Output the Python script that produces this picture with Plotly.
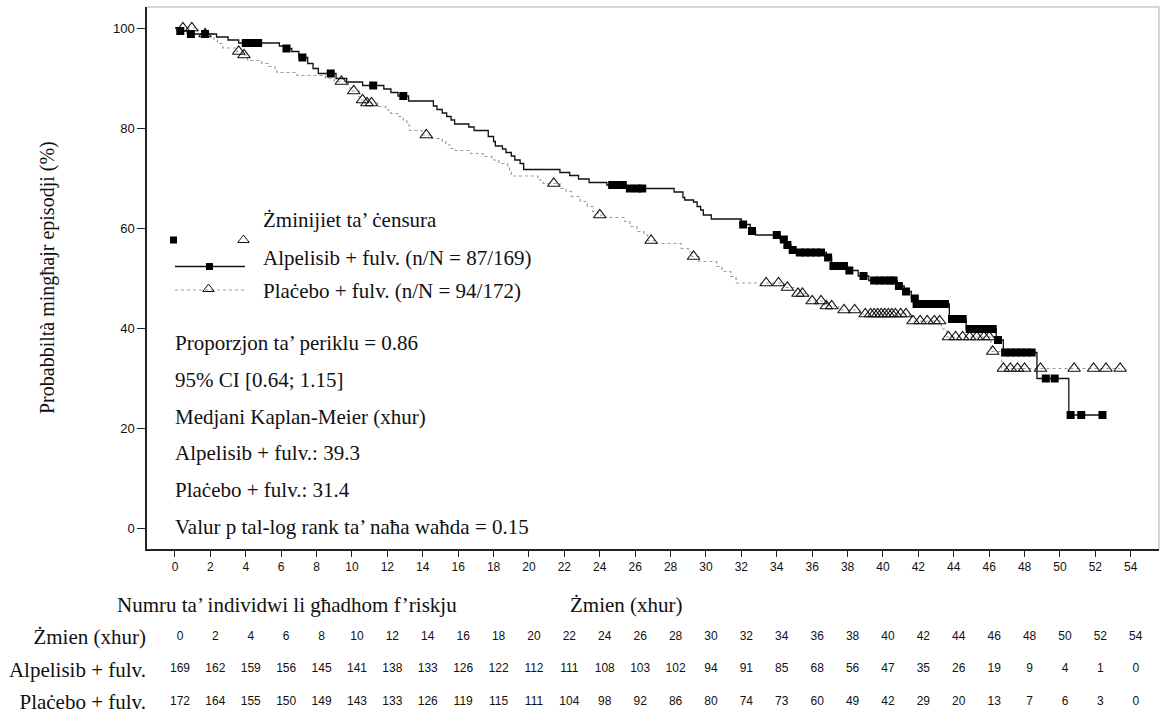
import numpy as np
import plotly.graph_objects as go

# ---------------- data ----------------
risk_months = list(range(0, 55, 2))
alp_risk = [169, 162, 159, 156, 145, 141, 138, 133, 126, 122, 112, 111, 108, 103,
            102, 94, 91, 85, 68, 56, 47, 35, 26, 19, 9, 4, 1, 0]
pla_risk = [172, 164, 155, 150, 149, 143, 133, 126, 119, 115, 111, 104, 98, 92,
            86, 80, 74, 73, 60, 49, 42, 29, 20, 13, 7, 6, 3, 0]

# Kaplan-Meier step curve, Alpelisib + fulv. (time in months, survival %)
alp_t = [0, 0.2, 0.7, 2.35, 3.0, 3.6, 5.9, 6.2, 6.6, 7.0,
         7.5, 7.8, 8.1, 9.1, 9.7, 10.6, 11.8, 12.2, 12.6, 13.2,
         14.6, 14.8, 15.1, 15.35, 15.6, 15.8, 16.6, 16.9, 17.7, 18.0,
         18.1, 18.5, 18.7, 19.0, 19.2, 19.5, 19.7, 21.75, 22.3, 22.8,
         23.4, 24.4, 25.5, 28.2, 28.7, 28.8, 29.3, 29.5, 29.7, 29.85,
         30.3, 32.0, 32.5, 32.8, 34.2, 34.5, 34.8, 35.1, 36.8, 37.1,
         38.0, 38.6, 39.2, 40.8, 41.2, 41.6, 41.85, 43.75, 44.7, 46.4,
         46.8, 48.7, 50.5, 52.4]
alp_s = [100, 99.4, 98.8, 98.2, 97.6, 97.0, 96.4, 95.9, 95.3, 94.1,
         92.9, 91.9, 90.9, 89.9, 89.2, 88.5, 87.8, 87.1, 86.4, 85.4,
         84.4, 83.7, 83.0, 82.3, 81.6, 80.8, 80.2, 79.5, 78.3, 77.3,
         76.4, 75.8, 75.1, 74.4, 73.6, 72.9, 71.7, 71.1, 70.5, 69.8,
         69.1, 68.6, 67.9, 67.2, 66.1, 65.6, 65.2, 64.3, 63.6, 62.6,
         61.8, 60.7, 59.4, 58.6, 57.7, 56.6, 55.6, 55.1, 54.1, 52.4,
         51.5, 50.4, 49.5, 48.4, 47.3, 45.9, 44.8, 41.8, 39.8, 37.6,
         35.1, 29.9, 22.6, 22.6]
alp_cens = [0.3, 0.9, 1.7, 4.0, 4.35, 4.7, 6.3, 7.2, 8.8, 11.2, 12.9,
            24.7, 25.0, 25.3, 25.7, 26.1, 26.4,
            32.1, 32.6, 34.0, 34.4, 34.6, 34.9, 35.3, 35.6, 35.9, 36.2, 36.5,
            36.9, 37.2, 37.5, 37.8, 38.1, 38.9, 39.5, 39.8, 40.1, 40.4, 40.6,
            40.9, 41.3, 41.8, 41.9, 42.3, 42.6, 42.9, 43.2, 43.5, 43.9, 44.2,
            44.5, 44.9, 45.2, 45.6, 45.9, 46.2, 46.5, 46.9, 47.2, 47.5, 47.8,
            48.1, 48.4, 49.2, 49.7, 50.6, 51.2, 52.4]

# Kaplan-Meier step curve, Plaċebo + fulv.
pla_t = [0, 1.3, 1.6, 2.2, 2.4, 2.7, 3.5, 3.8, 4.1, 4.9,
         5.3, 5.65, 5.75, 6.9, 8.5, 9.0, 9.8, 10.0, 10.4, 10.5,
         10.75, 11.5, 11.9, 12.2, 12.6, 12.9, 13.1, 13.25, 13.95, 14.5,
         15.1, 15.3, 15.6, 15.85, 16.7, 17.4, 17.9, 18.3, 18.8, 18.9,
         19.0, 20.5, 20.8, 21.75, 22.1, 22.4, 22.9, 23.3, 23.6, 23.9,
         24.2, 25.4, 25.7, 26.1, 26.5, 26.7, 27.1, 28.6, 29.0, 29.2,
         29.6, 30.6, 30.9, 31.4, 31.7, 34.4, 35.0, 35.8, 36.7, 37.5,
         38.7, 41.5, 43.3, 43.6, 46.1, 46.7, 53.4]
pla_s = [100, 99.4, 98.8, 97.6, 96.9, 96.0, 95.3, 94.6, 93.5, 92.9,
         92.3, 91.5, 91.1, 90.5, 89.9, 89.3, 88.0, 87.4, 86.2, 85.6,
         85.0, 84.3, 83.6, 82.9, 82.3, 81.6, 80.6, 79.5, 78.6, 77.9,
         77.3, 76.6, 75.9, 75.5, 74.9, 74.3, 73.6, 72.9, 72.3, 71.4,
         70.4, 69.6, 68.9, 67.9, 67.3, 66.3, 65.3, 64.3, 63.3, 62.6,
         62.1, 61.3, 60.3, 59.3, 58.6, 57.5, 56.9, 55.9, 55.2, 54.3,
         53.3, 52.3, 51.3, 50.3, 49.0, 48.1, 46.9, 45.4, 44.4, 43.6,
         42.8, 41.4, 39.8, 38.2, 35.3, 31.9, 31.9]
pla_cens = [0.45, 0.95, 1.7, 3.6, 3.9, 9.4, 10.1, 10.6, 10.85, 11.1, 14.2,
            21.4, 24.0, 26.9, 29.3,
            33.4, 34.1, 34.6, 35.2, 35.45, 36.0, 36.5, 36.8, 37.1, 37.8, 38.4,
            39.0, 39.3, 39.5, 39.7, 39.9, 40.1, 40.3, 40.5, 40.7, 41.0, 41.3,
            41.7, 42.1, 42.5, 42.9, 43.2,
            43.7, 44.1, 44.5, 44.9, 45.3, 45.7, 46.0, 46.2,
            46.8, 47.2, 47.6, 48.0, 48.9, 50.8, 51.9, 52.6, 53.4]

row_labels = ["Żmien (xhur)", "Alpelisib + fulv.", "Plaċebo + fulv."]
legend_alp = "Alpelisib + fulv. (n/N = 87/169)"
legend_pla = "Plaċebo + fulv. (n/N = 94/172)"
legend_head = "Żminijiet ta’ ċensura"
stats_lines = ["Proporzjon ta’ periklu = 0.86",
               "95% CI [0.64; 1.15]",
               "Medjani Kaplan-Meier (xhur)",
               "Alpelisib + fulv.: 39.3",
               "Plaċebo + fulv.: 31.4",
               "Valur p tal-log rank ta’ naħa waħda = 0.15"]


def at_time(ts, ss, t):
    i = int(np.searchsorted(ts, t, side="right")) - 1
    return ss[i]


alp_cy = [at_time(alp_t, alp_s, t) for t in alp_cens]
pla_cy = [at_time(pla_t, pla_s, t) for t in pla_cens]

# ---------------- geometry ----------------
W, H = 1160, 715
ML, MR, MT, MB = 147, 1, 7, 0
PW, PH = W - ML - MR, H - MT - MB
Y_BOTTOM = 549
PX_PER_MONTH = 17.7


def px(xp):
    return (xp - ML) / PW


def py(yp):
    return (H - MB - yp) / PH


SERIF = "Liberation Serif, Times New Roman, serif"
SANS = "Liberation Sans, Arial, sans-serif"
TXT = 21

fig = go.Figure()

# curves
fig.add_trace(go.Scatter(x=pla_t, y=pla_s, mode="lines", showlegend=False,
                         line=dict(shape="hv", color="#9a9a9a", width=1.2, dash="dot"),
                         hoverinfo="skip"))
fig.add_trace(go.Scatter(x=alp_t, y=alp_s, mode="lines", showlegend=False,
                         line=dict(shape="hv", color="#111111", width=1.3),
                         hoverinfo="skip"))
fig.add_trace(go.Scatter(x=pla_cens, y=pla_cy, mode="markers", showlegend=False,
                         marker=dict(symbol="triangle-up-open", size=11, color="#111111",
                                     line=dict(width=1.1, color="#111111"))))
fig.add_trace(go.Scatter(x=alp_cens, y=alp_cy, mode="markers", showlegend=False,
                         marker=dict(symbol="square", size=8, color="#000000",
                                     line=dict(width=0))))

# at-risk table (own x axis, shifted a few pixels right like the reference)
for lab, vals in zip(row_labels, [risk_months, alp_risk, pla_risk]):
    fig.add_trace(go.Scatter(x=risk_months, y=[lab] * len(risk_months),
                             text=[str(v) for v in vals], mode="text",
                             textfont=dict(family=SANS, size=12, color="#111"),
                             xaxis="x4", yaxis="y2", showlegend=False, cliponaxis=False))

# legend glyphs (overlay axes in pixel units)
fig.add_trace(go.Scatter(x=[175, 245], y=[266.5, 266.5], mode="lines",
                         line=dict(color="#111111", width=1.3), xaxis="x3", yaxis="y3",
                         showlegend=False, hoverinfo="skip"))
fig.add_trace(go.Scatter(x=[175, 245], y=[290, 290], mode="lines",
                         line=dict(color="#9a9a9a", width=1.2, dash="dot"), xaxis="x3",
                         yaxis="y3", showlegend=False, hoverinfo="skip"))
fig.add_trace(go.Scatter(x=[173.5, 209.5], y=[240, 266.5], mode="markers",
                         marker=dict(symbol="square", size=7, color="#000"),
                         xaxis="x3", yaxis="y3", showlegend=False, hoverinfo="skip"))
fig.add_trace(go.Scatter(x=[243.5, 208.5], y=[240, 289], mode="markers",
                         marker=dict(symbol="triangle-up-open", size=10, color="#111",
                                     line=dict(width=1, color="#111")),
                         xaxis="x3", yaxis="y3", showlegend=False, hoverinfo="skip"))

annotations = []


def txt(s, x, y, anchor="left", size=TXT, angle=0):
    annotations.append(dict(text=s, x=px(x), y=py(y), xref="paper", yref="paper",
                            xanchor=anchor, yanchor="middle", showarrow=False,
                            textangle=angle,
                            font=dict(family=SERIF, size=size, color="#111")))


txt(legend_head, 261, 220)
txt(legend_alp, 261, 258)
txt(legend_pla, 261, 291)
for i, s in enumerate(stats_lines):
    txt(s, 173, 343 + i * 36.8)
txt("Probabbiltà mingħajr episodji (%)", 47, 278, anchor="center", size=20, angle=-90)
txt("Numru ta’ individwi li għadhom f’riskju", 287, 605, anchor="center")
txt("Żmien (xhur)", 626, 605, anchor="center")

# light grey top/right frame
shapes = [
    dict(type="line", xref="paper", yref="paper", x0=0, x1=1, y0=1, y1=1,
         line=dict(color="#c8c8c8", width=1.5)),
    dict(type="line", xref="paper", yref="paper", x0=1, x1=1, y0=py(Y_BOTTOM), y1=1,
         line=dict(color="#c8c8c8", width=1.5)),
]

x0 = -1.58
x1 = x0 + PW / PX_PER_MONTH
shift = 5 / PX_PER_MONTH
fig.update_layout(
    width=W, height=H,
    margin=dict(l=ML, r=MR, t=MT, b=MB, pad=0),
    paper_bgcolor="white", plot_bgcolor="white",
    showlegend=False,
    xaxis=dict(range=[x0, x1], tickvals=risk_months, ticks="outside", ticklen=6,
               tickwidth=1, tickcolor="#222", showline=True, linecolor="#222", linewidth=1.5,
               showgrid=False, zeroline=False, anchor="y",
               tickfont=dict(family=SANS, size=12, color="#111")),
    yaxis=dict(domain=[py(Y_BOTTOM), 1], range=[(528 - Y_BOTTOM) / 5, (528 - MT) / 5],
               tickvals=[0, 20, 40, 60, 80, 100], ticks="outside", ticklen=8, tickwidth=1,
               tickcolor="#222", showline=True, linecolor="#222", linewidth=1.5,
               showgrid=False, zeroline=False, anchor="x",
               tickfont=dict(family=SANS, size=13, color="#111")),
    yaxis2=dict(domain=[0, 0.2], type="category", categoryorder="array",
                categoryarray=row_labels[::-1], range=[-0.4, -0.4 + 0.2 * PH / 32.5],
                showline=False, showgrid=False, zeroline=False, ticks="", anchor="x4",
                tickfont=dict(family=SERIF, size=TXT, color="#111")),
    xaxis4=dict(range=[x0 - shift, x1 - shift], visible=False, anchor="y2",
                overlaying="x"),
    xaxis3=dict(overlaying="x", range=[ML, W - MR], visible=False, anchor="y3"),
    yaxis3=dict(overlaying="y", range=[Y_BOTTOM, MT], visible=False, anchor="x3"),
    annotations=annotations,
    shapes=shapes,
)

fig.write_html("out.html",
               config={"displayModeBar": False},
               post_script="document.body.style.margin='0';document.body.style.padding='0';")
